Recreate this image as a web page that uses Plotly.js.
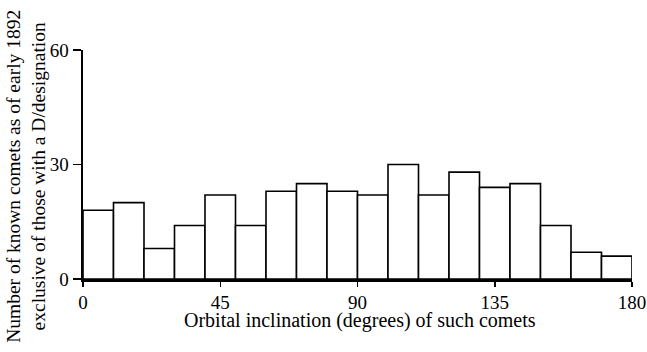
<!DOCTYPE html>
<html>
<head>
<meta charset="utf-8">
<script src="https://cdn.plot.ly/plotly-3.0.1.min.js"></script>
<style>html,body{margin:0;padding:0;background:#fff;}#chart{width:647px;height:352px;}</style>
</head>
<body>
<div id="chart"></div>
<script>
const binStarts = [0, 10, 20, 30, 40, 50, 60, 70, 80, 90, 100, 110, 120, 130, 140, 150, 160, 170];
const binWidth = 10;
const counts = [18, 20, 8, 14, 22, 14, 23, 25, 23, 22, 30, 22, 28, 24, 25, 14, 7, 6];
const xTicks = [0, 45, 90, 135, 180];
const yTicks = [0, 30, 60];
const xTitle = "Orbital inclination (degrees) of such comets";
const yTitleLines = ["Number of known comets as of early 1892", "exclusive of those with a D/designation"];

const tickFont = {family: "Liberation Serif, Times New Roman, serif", size: 19, color: "#000"};
const titleFont = {family: "Liberation Serif, Times New Roman, serif", size: 20, color: "#000"};
const yTitleFont = {family: "Liberation Serif, Times New Roman, serif", size: 19.5, color: "#000"};

const trace = {
  type: "bar",
  x: binStarts.map(s => s + binWidth / 2),
  y: counts,
  width: binWidth,
  marker: {color: "#fff", line: {color: "#000", width: 1.6}},
  hoverinfo: "skip"
};

const layout = {
  width: 647, height: 352,
  margin: {l: 83, r: 15, t: 50, b: 73},
  paper_bgcolor: "#fff", plot_bgcolor: "#fff",
  font: tickFont,
  showlegend: false,
  bargap: 0,
  xaxis: {
    range: [0, 180], tickvals: xTicks, ticktext: xTicks.map(String),
    showgrid: false, zeroline: false, showline: true, linecolor: "#000", linewidth: 2.5,
    ticks: "outside", ticklen: 5, tickwidth: 1.5, tickcolor: "#000",
    tickfont: tickFont
  },
  yaxis: {
    range: [0, 60], tickvals: yTicks, ticktext: yTicks.map(String),
    showgrid: false, zeroline: false, showline: true, linecolor: "#000", linewidth: 2.5,
    ticks: "outside", ticklen: 8, tickwidth: 1.5, tickcolor: "#000",
    tickfont: tickFont
  },
  annotations: [
    {
      text: xTitle,
      xref: "paper", yref: "paper", x: 0.505, y: -0.18,
      xanchor: "center", yanchor: "middle",
      showarrow: false, font: titleFont
    },
    {
      text: yTitleLines.join("<br>"),
      xref: "paper", yref: "paper", x: -0.104, y: 0.45,
      xanchor: "center", yanchor: "middle",
      textangle: -90, showarrow: false, font: yTitleFont, align: "center"
    }
  ]
};

Plotly.newPlot("chart", [trace], layout, {displayModeBar: false, staticPlot: true});
</script>
</body>
</html>
